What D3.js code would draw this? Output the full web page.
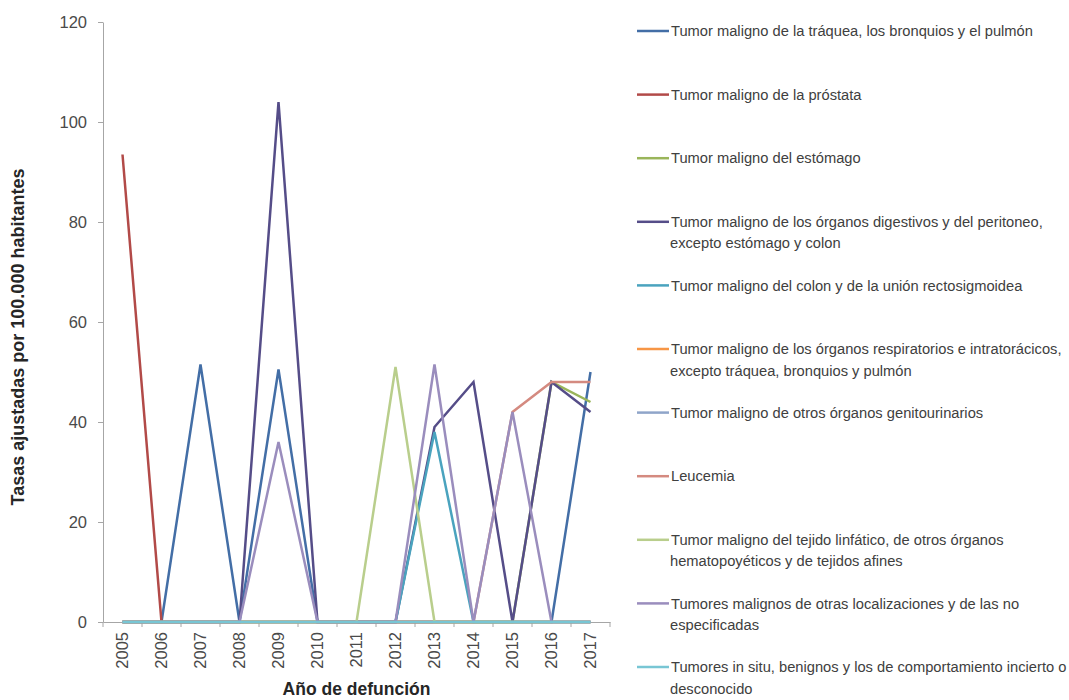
<!DOCTYPE html>
<html>
<head>
<meta charset="utf-8">
<script src="https://cdn.jsdelivr.net/npm/d3@7"></script>
<style>
  body { margin: 0; background: #fff; }
  svg { display: block; font-family: "Liberation Sans", Arial, sans-serif; }
</style>
</head>
<body>
<svg id="chart" width="1069" height="700"></svg>
<script>
const years = ["2005","2006","2007","2008","2009","2010","2011","2012","2013","2014","2015","2016","2017"];
const yTicks = [0, 20, 40, 60, 80, 100, 120];

const seriesNames = [
  ["Tumor maligno de la tráquea, los bronquios y el pulmón"],
  ["Tumor maligno de la próstata"],
  ["Tumor maligno del estómago"],
  ["Tumor maligno de los órganos digestivos y del peritoneo,", "excepto estómago y colon"],
  ["Tumor maligno del colon y de la unión rectosigmoidea"],
  ["Tumor maligno de los órganos respiratorios e intratorácicos,", "excepto tráquea, bronquios y pulmón"],
  ["Tumor maligno de otros órganos genitourinarios"],
  ["Leucemia"],
  ["Tumor maligno del tejido linfático, de otros órganos", "hematopoyéticos y de tejidos afines"],
  ["Tumores malignos de otras localizaciones y de las no", "especificadas"],
  ["Tumores in situ, benignos y los de comportamiento incierto o", "desconocido"]
];

const traquea      = [0, 0, 51.5, 0, 50.5, 0, 0, 0, 0, 0, 0, 0, 50];
const prostata     = [93.5, 0, 0, 0, 0, 0, 0, 0, 0, 0, 0, 0, 0];
const estomago     = [0, 0, 0, 0, 0, 0, 0, 0, 0, 0, 0, 48, 44];
const digestivos   = [0, 0, 0, 0, 104, 0, 0, 0, 39, 48, 0, 48, 42];
const colon        = [0, 0, 0, 0, 0, 0, 0, 0, 38, 0, 0, 0, 0];
const respiratorios= [0, 0, 0, 0, 0, 0, 0, 0, 0, 0, 0, 0, 0];
const genitouri    = [0, 0, 0, 0, 0, 0, 0, 0, 0, 0, 0, 0, 0];
const leucemia     = [0, 0, 0, 0, 0, 0, 0, 0, 0, 0, 42, 48, 48];
const linfatico    = [0, 0, 0, 0, 0, 0, 0, 51, 0, 0, 0, 0, 0];
const otras        = [0, 0, 0, 0, 36, 0, 0, 0, 51.5, 0, 42, 0, 0];
const inSitu       = [0, 0, 0, 0, 0, 0, 0, 0, 0, 0, 0, 0, 0];

const seriesValues = [traquea, prostata, estomago, digestivos, colon, respiratorios,
                      genitouri, leucemia, linfatico, otras, inSitu];
const colors = ["#436EA6", "#B24A48", "#9AB55A", "#554D88", "#4AA3BE", "#F79646",
                "#8FA5C9", "#D48A80", "#B9CE8C", "#9A8DBD", "#78C6D4"];

const svg = d3.select("#chart");
const mLeft = 103, mRight = 610, mTop = 22, mBottom = 622;

const xBand = d3.scaleBand().domain(years).range([mLeft, mRight]);
const x = d3.scalePoint().domain(years).range([mLeft, mRight]).padding(0.5);
const y = d3.scaleLinear().domain([0, 120]).range([mBottom, mTop]);

// Y axis
const yAxis = svg.append("g").attr("transform", `translate(${mLeft},0)`)
  .call(d3.axisLeft(y).tickValues(yTicks).tickSize(5).tickSizeOuter(0).tickPadding(11));
yAxis.select(".domain").attr("stroke", "#a6a6a6");
yAxis.selectAll(".tick line").attr("stroke", "#a6a6a6");
yAxis.selectAll(".tick text").attr("font-size", 16.5).attr("fill", "#4a4a4a")
  .attr("font-family", "'Liberation Sans', Arial, sans-serif");

// X axis
const xAxis = svg.append("g").attr("transform", `translate(0,${mBottom})`)
  .call(d3.axisBottom(xBand).tickSize(0).tickSizeOuter(0));
xAxis.select(".domain").attr("stroke", "#a6a6a6");
xAxis.selectAll(".tick text")
  .attr("font-size", 16.5).attr("fill", "#4a4a4a")
  .attr("font-family", "'Liberation Sans', Arial, sans-serif")
  .attr("transform", "rotate(-90)")
  .attr("text-anchor", "end")
  .attr("x", -10).attr("y", 0).attr("dy", "0.35em");
// tick marks at category boundaries
const boundaries = years.map(yr => xBand(yr)).concat([xBand(years[years.length - 1]) + xBand.bandwidth()]);
svg.append("g").selectAll("line").data(boundaries).join("line")
  .attr("x1", d => d).attr("x2", d => d)
  .attr("y1", mBottom).attr("y2", mBottom + 5)
  .attr("stroke", "#a6a6a6");

// Axis titles
svg.append("text")
  .attr("transform", `translate(24,337) rotate(-90)`)
  .attr("text-anchor", "middle")
  .attr("font-size", 18).attr("font-weight", "bold").attr("fill", "#262626")
  .text("Tasas ajustadas por 100.000 habitantes");
svg.append("text")
  .attr("x", (mLeft + mRight) / 2).attr("y", 695)
  .attr("text-anchor", "middle")
  .attr("font-size", 17.5).attr("font-weight", "bold").attr("fill", "#262626")
  .text("Año de defunción");

// Lines
const line = d3.line().x((d, i) => x(years[i])).y(d => y(d));
svg.append("g").selectAll("path").data(seriesValues).join("path")
  .attr("d", d => line(d))
  .attr("fill", "none")
  .attr("stroke", (d, i) => colors[i])
  .attr("stroke-width", 2.5)
  .attr("stroke-linejoin", "miter");

// Legend
const legend = svg.append("g");
const legStep = 63.6, legTop = 31;
seriesNames.forEach((lines, i) => {
  const gy = legTop + i * legStep;
  legend.append("line")
    .attr("x1", 637).attr("x2", 669).attr("y1", gy).attr("y2", gy)
    .attr("stroke", colors[i]).attr("stroke-width", 2.5);
  const t = legend.append("text")
    .attr("x", 671).attr("y", gy)
    .attr("font-size", 14.7).attr("fill", "#404040");
  lines.forEach((ln, j) => {
    t.append("tspan").attr("x", j === 0 ? 671 : 670)
      .attr("dy", j === 0 ? "0.35em" : "21.5")
      .text(ln);
  });
});
</script>
</body>
</html>
